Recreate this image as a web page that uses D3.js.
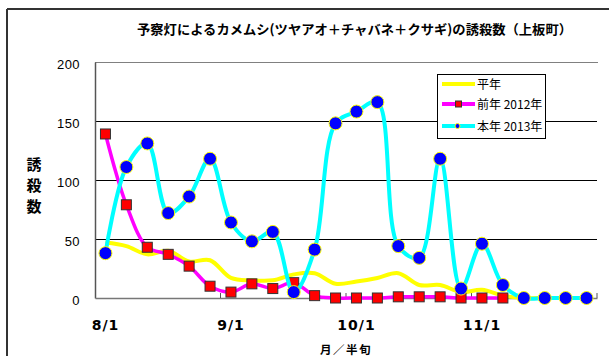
<!DOCTYPE html>
<html>
<head>
<meta charset="utf-8">
<script src="https://cdn.jsdelivr.net/npm/d3@7"></script>
<style>
  html, body { margin: 0; padding: 0; background: #fff; }
  svg { display: block; }
</style>
</head>
<body>
<div id="chart"></div>
<script>
// ---- data ----
const categories = [
  "8/1","8/2","8/3","8/4","8/5","8/6",
  "9/1","9/2","9/3","9/4","9/5","9/6",
  "10/1","10/2","10/3","10/4","10/5","10/6",
  "11/1","11/2","11/3","11/4","11/5","11/6"
];
const tickLabels = ["8/1", "9/1", "10/1", "11/1"];
const yTicks = [0, 50, 100, 150, 200];
const avgValues = [47,44,37,40,31,32,17,15,15,20,21,12,14,17,21,11,11,5,7,2,0,0,0,0];
const prev2012 = [139,79,43,37,27,10,5,12,8,13,2,0,0,0,1,1,1,0,0,0];
const curr2013 = [38,111,131,72,86,118,64,48,56,5,41,148,158,166,44,34,118,8,46,11,0,0,0,0];
const seriesNames = ["平年", "前年 2012年", "本年 2013年"];
const titleText = "予察灯によるカメムシ(ツヤアオ＋チャバネ＋クサギ)の誘殺数（上板町）";
const yTitle = ["誘", "殺", "数"];
const xTitle = "月／半旬";

// ---- layout ----
const W = 609, H = 356;
const pLeft = 95, pRight = 597, pTop = 62, pBottom = 298;
const jp = "'Noto Sans CJK JP', 'Liberation Sans', sans-serif";

const svg = d3.select("#chart").append("svg").attr("width", W).attr("height", H);

const x = d3.scaleBand().domain(categories).range([pLeft, pRight]).padding(0);
const y = d3.scaleLinear().domain([0, 200]).range([pBottom, pTop]);
const cx = c => x(c) + x.bandwidth() / 2;

// outer frame
svg.append("line").attr("x1", 7).attr("x2", W + 5).attr("y1", 9).attr("y2", 9)
  .attr("stroke", "#333").attr("stroke-width", 2);
svg.append("line").attr("x1", 7).attr("x2", 7).attr("y1", 9).attr("y2", H + 5)
  .attr("stroke", "#333").attr("stroke-width", 2);

// title
svg.append("text").attr("x", 354.5).attr("y", 34).attr("text-anchor", "middle")
  .attr("font-family", jp).attr("font-weight", "bold").attr("font-size", 13)
  .attr("textLength", 435).attr("lengthAdjust", "spacingAndGlyphs")
  .text(titleText);

// gridlines
svg.append("g").selectAll("line").data(yTicks.filter(t => t > 0 && t < 200)).join("line")
  .attr("x1", pLeft).attr("x2", pRight)
  .attr("y1", d => y(d) + 0.5).attr("y2", d => y(d) + 0.5)
  .attr("stroke", "#000").attr("stroke-width", 1);

// plot top border
svg.append("line").attr("x1", pLeft).attr("x2", pRight + 1).attr("y1", y(200) + 0.5).attr("y2", y(200) + 0.5)
  .attr("stroke", "#808080").attr("stroke-width", 1.2);

// y axis
const yAxis = d3.axisLeft(y).tickValues(yTicks).tickSize(0).tickPadding(15);
const gy = svg.append("g").attr("transform", `translate(${pLeft},0)`).call(yAxis);
gy.select(".domain").attr("stroke", "#555").attr("stroke-width", 1.5);
gy.selectAll("text").attr("font-family", "'Liberation Sans', Arial, sans-serif")
  .attr("font-size", 13).attr("fill", "#000").attr("dy", "0.5em").attr("letter-spacing", 0.4);

// x axis
const xAxis = d3.axisBottom(x).tickValues([]).tickSize(0).tickSizeOuter(0);
const gx = svg.append("g").attr("transform", `translate(0,${pBottom})`).call(xAxis);
gx.select(".domain").attr("stroke", "#777").attr("stroke-width", 1.5);
// inward ticks at month boundaries
const tickCats = categories.filter((c, i) => i % 6 === 0 && i > 0);
const tickXs = tickCats.map(c => x(c)).concat([x.range()[1]]);
svg.append("g").selectAll("line").data(tickXs).join("line")
  .attr("x1", d => d).attr("x2", d => d).attr("y1", pBottom).attr("y2", pBottom - 5)
  .attr("stroke", "#555").attr("stroke-width", 1);
// month labels
svg.append("g").selectAll("text").data(tickLabels).join("text")
  .attr("x", d => cx(d)).attr("y", 330).attr("text-anchor", "middle")
  .attr("font-family", "'DejaVu Sans', sans-serif").attr("font-weight", "bold")
  .attr("font-size", 14).attr("letter-spacing", 1).attr("fill", "#000")
  .text(d => d);

// axis titles
svg.append("g").selectAll("text").data(yTitle).join("text")
  .attr("x", 34).attr("y", (d, i) => 170 + i * 21).attr("text-anchor", "middle")
  .attr("font-family", jp).attr("font-weight", "bold").attr("font-size", 15)
  .text(d => d);
svg.append("text").attr("x", 346).attr("y", 353.5).attr("text-anchor", "middle")
  .attr("font-family", jp).attr("font-weight", "bold").attr("font-size", 11.5)
  .attr("letter-spacing", 1.5).text(xTitle);

// series
const line = d3.line().curve(d3.curveCatmullRom.alpha(0.5))
  .x((d, i) => cx(categories[i])).y(d => y(d));

svg.append("path").datum(avgValues).attr("d", line)
  .attr("fill", "none").attr("stroke", "#FFFF00").attr("stroke-width", 4);

svg.append("path").datum(prev2012).attr("d", line)
  .attr("fill", "none").attr("stroke", "#FF00FF").attr("stroke-width", 3.5);
svg.append("g").selectAll("rect").data(prev2012).join("rect")
  .attr("x", (d, i) => cx(categories[i]) - 5).attr("y", d => y(d) - 5)
  .attr("width", 10).attr("height", 10)
  .attr("fill", "#FF0000").attr("stroke", "#333").attr("stroke-width", 1);

svg.append("path").datum(curr2013).attr("d", line)
  .attr("fill", "none").attr("stroke", "#00FFFF").attr("stroke-width", 4);
svg.append("g").selectAll("circle").data(curr2013).join("circle")
  .attr("cx", (d, i) => cx(categories[i])).attr("cy", d => y(d)).attr("r", 6.5)
  .attr("fill", "#0000FF").attr("stroke", "#FFFF00").attr("stroke-width", 1);

// legend
const lg = svg.append("g");
lg.append("rect").attr("x", 437.5).attr("y", 74.5).attr("width", 108).attr("height", 64)
  .attr("fill", "#fff").attr("stroke", "#000").attr("stroke-width", 1);
const colors = ["#FFFF00", "#FF00FF", "#00FFFF"];
const ly = [84, 104, 126];
seriesNames.forEach((name, i) => {
  lg.append("line").attr("x1", 442).attr("x2", 475).attr("y1", ly[i]).attr("y2", ly[i])
    .attr("stroke", colors[i]).attr("stroke-width", 4);
  if (i === 1) {
    lg.append("rect").attr("x", 455.5).attr("y", ly[i] - 3).attr("width", 6).attr("height", 6)
      .attr("fill", "#FF0000").attr("stroke", "#333").attr("stroke-width", 1);
  }
  if (i === 2) {
    lg.append("circle").attr("cx", 457.5).attr("cy", ly[i]).attr("r", 2.5)
      .attr("fill", "#0000FF").attr("stroke", "#FFFF00").attr("stroke-width", 1);
  }
  lg.append("text").attr("x", 477).attr("y", ly[i] + 4.5)
    .attr("font-family", jp).attr("font-size", 12).attr("fill", "#000").text(name);
});
</script>
</body>
</html>
